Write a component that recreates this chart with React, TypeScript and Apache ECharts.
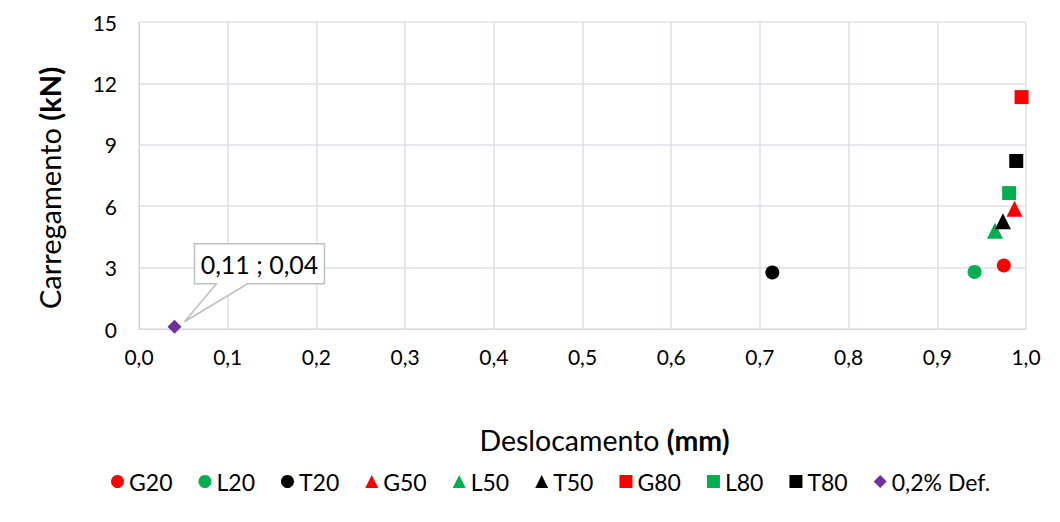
import React, { useEffect, useRef } from "react";
import * as echarts from "echarts";

const seriesNames = ["G20", "L20", "T20", "G50", "L50", "T50", "G80", "L80", "T80", "0,2% Def."];
const seriesColors = ["#ff0000", "#00b050", "#000000", "#ff0000", "#00b050", "#000000", "#ff0000", "#00b050", "#000000", "#7030a0"];
const seriesSymbols = ["circle", "circle", "circle", "triangle", "triangle", "triangle", "rect", "rect", "rect", "diamond"];
const xValues = [0.975, 0.942, 0.714, 0.987, 0.965, 0.974, 0.995, 0.981, 0.989, 0.04];
const yValues = [3.1, 2.79, 2.76, 5.88, 4.8, 5.26, 11.33, 6.64, 8.21, 0.11];
const calloutText = "0,11 ; 0,04";

const FONT = "Lato, 'Open Sans', sans-serif";

export default function App() {
  const ref = useRef<HTMLDivElement>(null);
  useEffect(() => {
    if (!ref.current) return;
    const chart = echarts.init(ref.current, undefined, { renderer: "svg" });
    const series = seriesNames.map((n, i) => ({
      name: n,
      type: "scatter",
      symbol: seriesSymbols[i],
      symbolSize: seriesSymbols[i] === "triangle" ? 16 : 14,
      itemStyle: { color: seriesColors[i], opacity: 1 },
      data: [[xValues[i], yValues[i]]],
    }));
    chart.setOption({
      animation: false,
      textStyle: { fontFamily: FONT },
      grid: { left: 139, right: 34, top: 22, bottom: 193 },
      xAxis: {
        type: "value",
        min: 0,
        max: 1,
        interval: 0.1,
        name: "{a|Deslocamento }{b|(mm)}",
        nameLocation: "middle",
        nameGap: 96,
        nameTextStyle: {
          padding: [0, 0, 0, 44],
          rich: {
            a: { fontSize: 28.5, color: "#000", fontFamily: FONT },
            b: { fontSize: 28.5, color: "#000", fontWeight: "bold", fontFamily: FONT },
          },
        },
        axisLine: { lineStyle: { color: "#d9d9d9" } },
        axisTick: { show: false },
        axisLabel: {
          fontSize: 21,
          color: "#000",
          margin: 17,
          formatter: (v: number) => v.toFixed(1).replace(".", ","),
        },
        splitLine: { lineStyle: { color: "#dde1e8", width: 1.5 } },
      },
      yAxis: {
        type: "value",
        min: 0,
        max: 15,
        interval: 3,
        name: "{a|Carregamento }{b|(kN)}",
        nameLocation: "middle",
        nameGap: 75,
        nameRotate: 90,
        nameTextStyle: {
          padding: [0, 25, 0, 0],
          rich: {
            a: { fontSize: 29, color: "#000", fontFamily: FONT },
            b: { fontSize: 29, color: "#000", fontWeight: "bold", fontFamily: FONT },
          },
        },
        axisLine: { show: true, lineStyle: { color: "#cfd6e2" } },
        axisTick: { show: false },
        axisLabel: { fontSize: 21, color: "#000", margin: 22 },
        splitLine: { lineStyle: { color: "#dde1e8", width: 1.5 } },
      },
      legend: {
        top: 465,
        left: 106,
        itemWidth: 13,
        itemHeight: 13,
        itemGap: 26,
        textStyle: { fontSize: 23, color: "#000", fontFamily: FONT },
        data: seriesNames.map((n) => ({ name: n })),
      },
      series,
    });
    const p = chart.convertToPixel({ gridIndex: 0 }, [xValues[9], yValues[9]]) as number[];
    const bx = p[0] + 20;
    const by = p[1] - 83;
    const bw = 130;
    const bh = 40;
    chart.setOption({
      graphic: [
        {
          type: "polygon",
          z: 100,
          shape: {
            points: [
              [bx, by],
              [bx + bw, by],
              [bx + bw, by + bh],
              [bx + 53, by + bh],
              [p[0] + 10, p[1] - 5],
              [bx + 22, by + bh],
              [bx, by + bh],
            ],
          },
          style: { fill: "#fff", stroke: "#bfbfbf", lineWidth: 1.5 },
        },
        {
          type: "text",
          z: 101,
          x: bx + bw / 2,
          y: by + bh / 2,
          style: {
            text: calloutText,
            fill: "#000",
            fontSize: 25,
            fontFamily: FONT,
            align: "center",
            verticalAlign: "middle",
          },
        },
      ],
    });
    return () => chart.dispose();
  }, []);
  return <div ref={ref} style={{ position: "fixed", left: 0, top: 0, width: 1060, height: 522, background: "#fff" }} />;
}
